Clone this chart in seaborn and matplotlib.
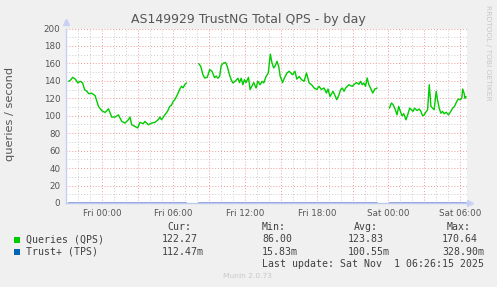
import matplotlib
matplotlib.use("Agg")
import matplotlib.pyplot as plt
from matplotlib.patches import Rectangle
import numpy as np
import pandas as pd
import seaborn as sns

sns.set_style("white")
plt.rcParams['font.family'] = ['DejaVu Sans']

# ---- data: hours relative to Fri 00:00 ----
seg1_hours = [-2.78, -2.64, -2.44, -2.22, -2.0, -1.81, -1.61, -1.44, -1.25, -1.11, -0.83, -0.56, -0.28, 0.0,
              0.28, 0.56, 0.83, 1.11, 1.39, 1.67, 1.94, 2.22, 2.36, 2.5, 2.78, 3.0, 3.19, 3.47, 3.61, 3.89,
              4.17, 4.44, 4.72, 4.86, 5.0, 5.28, 5.5, 5.69, 5.83, 5.97, 6.11, 6.25, 6.39, 6.53, 6.67, 6.81,
              6.94, 7.08]
seg1_qps = [139.5, 140.6, 144, 142, 137.6, 139.5, 137.6, 130, 128, 125.4, 125.7, 123, 110.7, 105.7,
            103.8, 108, 98.5, 98.5, 101, 93.5, 91.6, 95.4, 98.5, 89.7, 87.7, 86.0, 92.3, 91, 93.5, 89.7,
            91.6, 92.3, 95.4, 98.5, 95.4, 101, 105, 110.7, 112, 116.4, 118.4, 122, 126, 130.6, 133.7, 132,
            135.6, 137.6]

seg2_hours = [8.11, 8.28, 8.47, 8.61, 8.83, 9.03, 9.22, 9.44, 9.58, 9.72, 9.86, 10.0, 10.19, 10.36, 10.5,
              10.69, 10.83, 10.97, 11.17, 11.39, 11.53, 11.67, 11.81, 11.94, 12.08, 12.28, 12.42, 12.56,
              12.72, 12.92, 13.06, 13.25, 13.42, 13.56, 13.75, 13.94, 14.11, 14.25, 14.39, 14.53, 14.67,
              14.81, 14.94, 15.14, 15.28, 15.5, 15.69, 15.97, 16.17, 16.33, 16.53, 16.72, 16.94, 17.14,
              17.36, 17.56, 17.78, 18.0, 18.19, 18.39, 18.61, 18.81, 18.94, 19.11, 19.36, 19.5, 19.67,
              19.86, 20.0, 20.14, 20.28, 20.42, 20.56, 20.69, 20.83, 20.97, 21.11, 21.33, 21.53, 21.67,
              21.81, 21.94, 22.08, 22.22, 22.36, 22.5, 22.69, 22.86, 23.06]
seg2_qps = [159.8, 156.7, 147, 143.3, 144, 152.9, 151, 143.7, 145.5, 143, 145, 157.5, 160.5, 161, 156.7,
            147, 141.4, 137.6, 139.5, 143, 138, 143, 135.6, 141.4, 138, 144, 130, 133.7,
            138, 131.8, 139.5, 135.6, 139.5, 137.6, 145, 149, 170.6, 160.5, 154.8, 157.5, 162.4,
            156.7, 145, 138, 143, 149, 151, 147, 151, 142, 145, 141.4, 139.5, 149,
            137.6, 135.6, 131.8, 130, 133.7, 130, 131.8, 126, 130.6, 122, 128, 124, 118.4,
            124, 130, 131.8, 128, 131.8, 133.7, 135.6, 134.5, 133.7, 135.6, 138, 136, 139.5,
            135.6, 137.6, 133.7, 143.3, 135.6, 131.8, 126, 130.6, 131.8]

seg3_hours = [24.08, 24.25, 24.39, 24.58, 24.72, 24.86, 25.0, 25.14, 25.28, 25.47, 25.61, 25.78, 25.92,
              26.06, 26.19, 26.39, 26.58, 26.72, 26.86, 27.0, 27.17, 27.28, 27.42, 27.56, 27.69, 27.83,
              28.0, 28.11, 28.25, 28.39, 28.53, 28.67, 28.83, 29.03, 29.22, 29.39, 29.53, 29.72, 29.86,
              30.0, 30.14, 30.22, 30.33, 30.42, 30.5]
seg3_qps = [108.8, 114.6, 112.7, 106.9, 101, 110.7, 105, 100, 102.3, 95.4, 101, 108.8, 106.9,
            105, 108.8, 106, 107.7, 105, 100, 101, 105, 106.9, 135.6, 110.7, 108.8, 106.9,
            128, 118.4, 108.8, 103, 105, 102.3, 104, 101, 105, 108.8, 110.7, 116.4, 119.2,
            118.4, 120, 130.6, 126, 120, 122]

tps_hours = [-2.78, 0.0, 3.0, 7.08, 8.11, 12.0, 18.0, 23.06, 24.08, 27.0, 30.5]
tps_vals = [0.12, 0.10, 0.09, 0.11, 0.13, 0.10, 0.12, 0.11, 0.10, 0.12, 0.11]
tps_seg = [1, 1, 1, 1, 2, 2, 2, 2, 3, 3, 3]

tick_hours = [0, 6, 12, 18, 24, 30]
tick_labels = ["Fri 00:00", "Fri 06:00", "Fri 12:00", "Fri 18:00", "Sat 00:00", "Sat 06:00"]

title = "AS149929 TrustNG Total QPS - by day"
legend_rows = [("Queries (QPS)", "122.27", "86.00", "123.83", "170.64", "#00cc00"),
               ("Trust+ (TPS)", "112.47m", "15.83m", "100.55m", "328.90m", "#0066b3")]
last_update = "Last update: Sat Nov  1 06:26:15 2025"

# ---- build frames ----
qps_df = pd.DataFrame({
    "hour": seg1_hours + seg2_hours + seg3_hours,
    "qps": seg1_qps + seg2_qps + seg3_qps,
    "seg": [1] * len(seg1_hours) + [2] * len(seg2_hours) + [3] * len(seg3_hours),
})
tps_df = pd.DataFrame({"hour": tps_hours, "tps": tps_vals, "seg": tps_seg})

W, H = 497, 287
fig = plt.figure(figsize=(W / 100, H / 100), dpi=100, facecolor="#f0f0f0")
L, R, T, B = 66, 467, 28.5, 203
ax = fig.add_axes([L / W, 1 - B / H, (R - L) / W, (B - T) / H])
ax.set_facecolor("white")

xmin, xmax = -2.83, 30.58
ax.set_xlim(xmin, xmax)
ax.set_ylim(0, 200)

# grid
ax.set_xticks(np.arange(-3, 31, 3))
ax.set_xticks(np.arange(-2, 31, 1), minor=True)
ax.set_yticks(np.arange(0, 201, 20))
ax.set_yticks(np.arange(10, 200, 20), minor=True)
ax.grid(which="minor", color="#cccccc", ls=(0, (1, 2)), lw=0.7)
ax.grid(which="major", color="#ee9a9a", ls=(0, (1, 2)), lw=0.7)
ax.set_axisbelow(True)

major_x = np.arange(-3, 31, 3)
ax.set_xticklabels([tick_labels[tick_hours.index(h)] if h in tick_hours else "" for h in major_x])
ax.tick_params(axis="x", which="major", length=3, color="#ee9a9a", pad=1.5, labelsize=6.3,
               labelcolor="#555555", width=0.7)
ax.tick_params(axis="x", which="minor", length=2, color="#cccccc", width=0.7)
ax.tick_params(axis="y", which="both", length=0, pad=4, labelsize=6.3, labelcolor="#555555")

for s in ["top", "right"]:
    ax.spines[s].set_visible(False)
ax.spines["left"].set_color("#c8d0f4")
ax.spines["bottom"].set_color("#c0c8f0")
ax.spines["left"].set_linewidth(1)
ax.spines["bottom"].set_linewidth(1)

# arrows
ax.plot([0], [1.035], marker="^", color="#c8d0f4", ms=5, transform=ax.transAxes, clip_on=False)
ax.plot([1.008], [0], marker=">", color="#c8d0f4", ms=5, transform=ax.transAxes, clip_on=False)

# data lines
sns.lineplot(data=tps_df, x="hour", y="tps", units="seg", estimator=None, color="#7f96d8",
             lw=1.1, ax=ax, clip_on=False)
sns.lineplot(data=qps_df, x="hour", y="qps", units="seg", estimator=None, color="#00cc00",
             lw=1.0, ax=ax)
ax.set_xlabel("")
ax.set_ylabel("")

# texts
fig.text(248 / W, 1 - 19 / H, title, ha="center", va="center", fontsize=9, color="#555555")
fig.text(10 / W, 1 - 114 / H, "queries / second", rotation=90, ha="center", va="center",
         fontsize=8.2, color="#555555")
fig.text(488 / W, 1 - 53 / H, "RRDTOOL / TOBI OETIKER", rotation=270, ha="center", va="center",
         fontsize=5.4, color="#c8c8c8")
fig.text(223 / W, 1 - 276 / H, "Munin 2.0.73", ha="left", va="center", fontsize=5.4, color="#c8c8c8")

mono = dict(family="DejaVu Sans Mono", fontsize=7.1, color="#404040", va="center", ha="left")
fig.text(167 / W, 1 - 227.5 / H, "Cur:", **mono)
fig.text(262 / W, 1 - 227.5 / H, "Min:", **mono)
fig.text(354 / W, 1 - 227.5 / H, "Avg:", **mono)
fig.text(447 / W, 1 - 227.5 / H, "Max:", **mono)
row_y = [239.5, 251.7]
for (name, cur, mn, avg, mx, col), y in zip(legend_rows, row_y):
    fig.patches.append(Rectangle((14 / W, 1 - (y + 3) / H), 6 / W, 6 / H, transform=fig.transFigure,
                                 facecolor=col, edgecolor="none"))
    fig.text(26 / W, 1 - y / H, name, **mono)
    fig.text(162 / W, 1 - y / H, cur, **mono)
    fig.text(262 / W, 1 - y / H, mn, **mono)
    fig.text(348 / W, 1 - y / H, avg, **mono)
    fig.text(442 / W, 1 - y / H, mx, **mono)
fig.text(262 / W, 1 - 263.8 / H, last_update, **mono)

fig.savefig("out.png", dpi=100, facecolor=fig.get_facecolor())
